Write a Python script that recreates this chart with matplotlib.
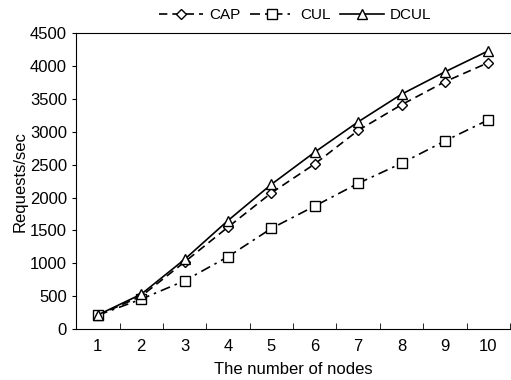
import numpy as np
import matplotlib.pyplot as plt

plt.rcParams['font.family'] = ['Liberation Sans', 'DejaVu Sans']

##### Data #####
nodes = [1, 2, 3, 4, 5, 6, 7, 8, 9, 10]
cap = [210, 500, 1020, 1550, 2070, 2510, 3020, 3410, 3760, 4050]
cul = [210, 455, 735, 1100, 1530, 1870, 2215, 2520, 2860, 3180]
dcul = [215, 530, 1060, 1650, 2200, 2690, 3150, 3570, 3910, 4230]
yticks = [0, 500, 1000, 1500, 2000, 2500, 3000, 3500, 4000, 4500]

##### Plot #####
fig = plt.figure(figsize=(5.11, 3.80), dpi=100)
ax = fig.add_axes([0.149, 0.134, 0.849, 0.779])

mk = dict(color="black", markerfacecolor="white", markeredgecolor="black",
          markersize=7, markeredgewidth=1.0, linewidth=1.2)
ax.plot(nodes, cap, linestyle=(0, (5, 3)), marker="D", label="CAP",
        **{**mk, "markersize": 5.5})
ax.plot(nodes, cul, linestyle=(0, (6, 3, 1.5, 3)), marker="s", label="CUL", **mk)
ax.plot(nodes, dcul, linestyle="-", marker="^", label="DCUL", **mk)

ax.set_xlim(0.5, 10.5)
ax.set_ylim(0, 4500)
ax.set_yticks(yticks)
ax.set_xticks(nodes)
ax.set_xticks(np.arange(0.5, 11, 1), minor=True)
ax.tick_params(axis="x", which="major", length=0, labelsize=12, pad=7)
ax.tick_params(axis="x", which="minor", direction="in", length=4)
ax.tick_params(axis="y", labelsize=12, length=3, direction="out")
ax.spines["right"].set_visible(False)

ax.set_xlabel("The number of nodes", fontsize=12, labelpad=6)
ax.set_ylabel("Requests/sec", fontsize=12, labelpad=2)

ax.legend(loc="lower center", bbox_to_anchor=(0.505, 1.0), ncol=3, frameon=False,
          fontsize=11, handlelength=2.9, columnspacing=0.6, handletextpad=0.4,
          borderaxespad=0.3)

fig.savefig("out.png", dpi=100)
